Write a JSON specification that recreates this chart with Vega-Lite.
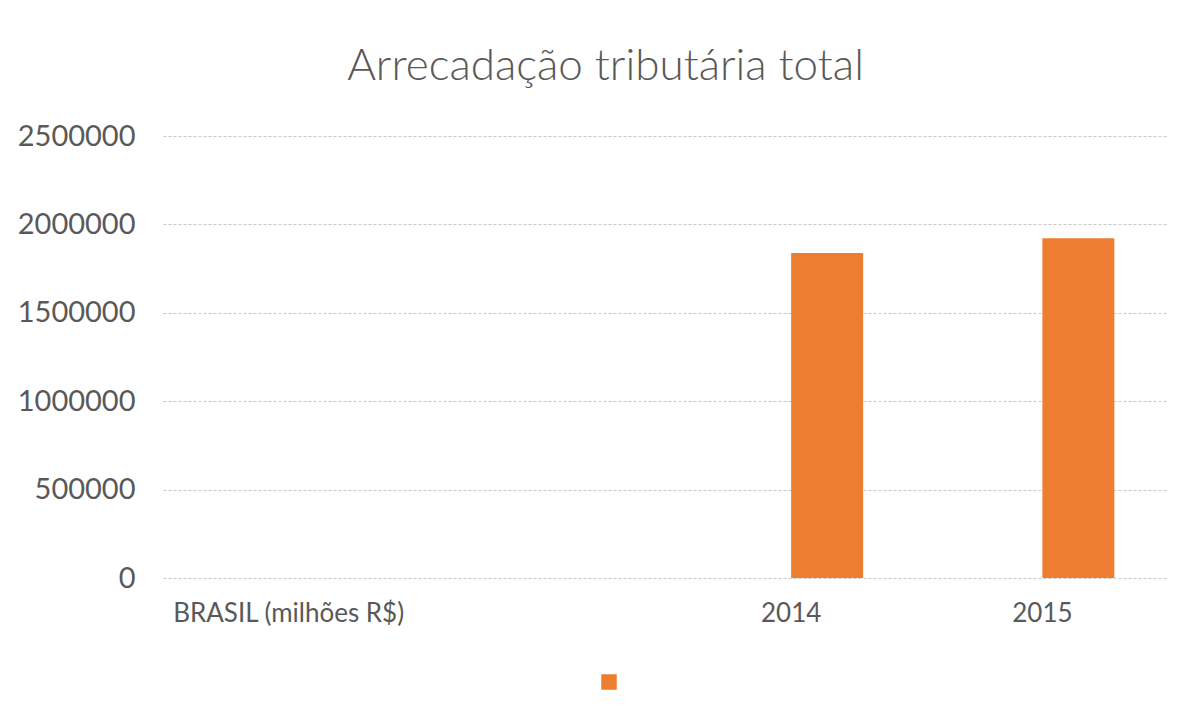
{
  "$schema": "https://vega.github.io/schema/vega-lite/v6.json",
  "autosize": {"type": "none"},
  "width": 1005,
  "height": 442,
  "padding": {"left": 163, "top": 136, "right": 25, "bottom": 148},
  "background": "white",
  "title": {
    "text": "Arrecadação tributária total",
    "anchor": "middle",
    "dx": -60,
    "offset": 48,
    "dy": 50,
    "baseline": "alphabetic",
    "font": "Lato",
    "fontSize": 44,
    "fontWeight": 300,
    "color": "#595959"
  },
  "data": {
    "values": [
      {"categoria": "2014", "serie": "Arrecadação", "valor": 1838000},
      {"categoria": "2015", "serie": "Arrecadação", "valor": 1921000}
    ]
  },
  "mark": {"type": "bar", "color": "#ED7D31"},
  "encoding": {
    "x": {
      "field": "categoria",
      "type": "nominal",
      "sort": null,
      "scale": {"domain": ["BRASIL  (milhões R$)", " ", "2014", "2015"], "paddingInner": 0.427, "paddingOuter": 0.2135},
      "axis": {
        "title": null,
        "labelAngle": 0,
        "ticks": false,
        "domain": false,
        "labelPadding": 22,
        "labelLimit": 500,
        "labelFont": "Lato",
        "labelFontSize": 26,
        "labelColor": "#595959"
      }
    },
    "xOffset": {
      "field": "serie",
      "type": "nominal",
      "scale": {"domain": ["(vazio)", "Arrecadação"], "paddingInner": 0, "paddingOuter": 0}
    },
    "y": {
      "field": "valor",
      "type": "quantitative",
      "scale": {"domain": [0, 2500000]},
      "axis": {
        "title": null,
        "values": [0, 500000, 1000000, 1500000, 2000000, 2500000],
        "format": "d",
        "ticks": false,
        "domain": false,
        "labelPadding": 28,
        "labelFont": "Lato",
        "labelFontSize": 29,
        "labelColor": "#595959",
        "grid": true,
        "gridColor": "#c8c8c8",
        "gridDash": [3, 2],
        "gridWidth": 1
      }
    },
    "color": {
      "field": "serie",
      "type": "nominal",
      "scale": {"domain": ["Arrecadação"], "range": ["#ED7D31"]},
      "legend": {
        "title": null,
        "orient": "none",
        "legendX": 438,
        "legendY": 538,
        "padding": 0,
        "symbolType": "square",
        "symbolSize": 240,
        "symbolStrokeWidth": 0,
        "symbolOpacity": 1,
        "labelExpr": "''",
        "labelFontSize": 1
      }
    }
  },
  "config": {"view": {"stroke": null}}
}
